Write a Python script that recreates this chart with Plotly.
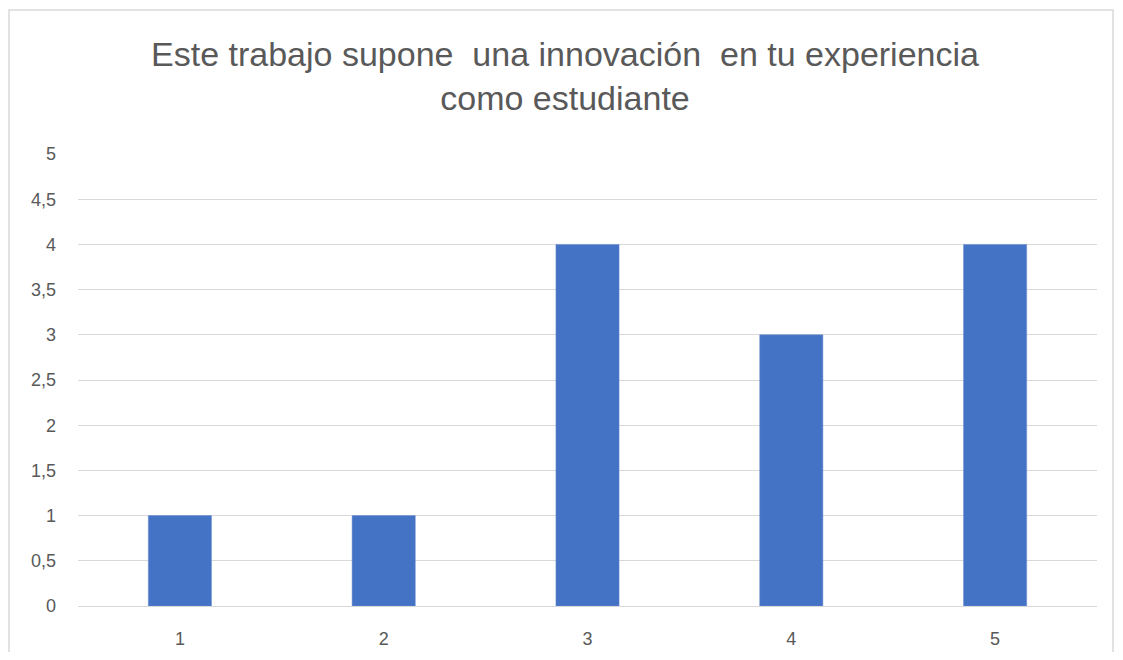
import plotly.graph_objects as go

categories = ["1", "2", "3", "4", "5"]
values = [1, 1, 4, 3, 4]
y_ticks = [0, 0.5, 1, 1.5, 2, 2.5, 3, 3.5, 4, 4.5, 5]
title_text = "Este trabajo supone  una innovación  en tu experiencia<br>como estudiante"

# the page places the figure 8px from the top-left corner; keep page within window
OFF = 8
W, H = 1123 - 2 * OFF, 660 - 2 * OFF
L, R, T, B = 78 - OFF, W - (1097 - OFF), 154 - OFF, H - (606 - OFF)
pw, ph = W - L - R, H - T - B

def px_to_paper_x(px):
    return (px - OFF - L) / pw

def px_to_paper_y(py):
    return (H - B - (py - OFF)) / ph

fig = go.Figure(go.Bar(
    x=categories, y=values,
    marker=dict(color="#4472C4", line=dict(color="#6d8fd1", width=0.5)),
))

fig.update_layout(
    width=W, height=H,
    margin=dict(l=L, r=R, t=T, b=B, autoexpand=False),
    paper_bgcolor="white", plot_bgcolor="white",
    bargap=0.69,
    separators=",.",
    font=dict(family="Liberation Sans, sans-serif", color="#595959"),
    title=dict(text=title_text, x=(565 - OFF) / W, xanchor="center", xref="container",
               y=1 - (66 - OFF) / H, yanchor="middle", yref="container",
               font=dict(size=34, color="#595959", family="Liberation Sans, sans-serif")),
    showlegend=False,
)
fig.update_yaxes(range=[0, 5], tickvals=y_ticks, showgrid=True, gridcolor="#d9d9d9",
                 gridwidth=1.2, zeroline=False, showline=False, ticks="", automargin=False,
                 tickfont=dict(size=18, color="#595959"), ticklabelstandoff=21)
fig.update_xaxes(showgrid=False, showline=True, linecolor="#d9d9d9", linewidth=1.2,
                 ticks="", automargin=False,
                 tickfont=dict(size=18, color="#595959"), ticklabelstandoff=16)

fig.add_shape(type="rect", xref="paper", yref="paper",
              x0=px_to_paper_x(9), x1=px_to_paper_x(1113),
              y0=px_to_paper_y(720), y1=px_to_paper_y(10),
              line=dict(color="#d9d9d9", width=1.5), fillcolor="rgba(0,0,0,0)", layer="below")

fig.write_html("out.html")
